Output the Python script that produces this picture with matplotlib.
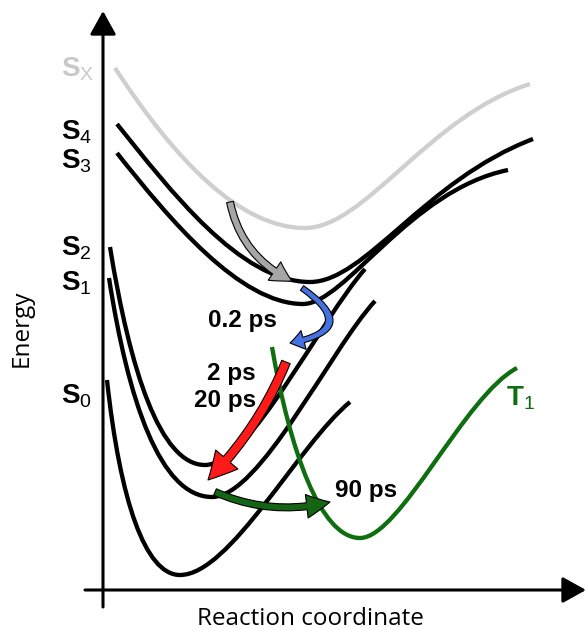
import matplotlib
matplotlib.use('Agg')
from matplotlib import pyplot as plt
from matplotlib.patches import FancyArrowPatch, PathPatch
from matplotlib.path import Path

plt.rcParams['font.family'] = ['Liberation Sans', 'DejaVu Sans']
plt.rcParams['mathtext.fontset'] = 'custom'
plt.rcParams['mathtext.rm'] = 'Liberation Sans'
plt.rcParams['mathtext.bf'] = 'Liberation Sans:bold'

# each curve = two cubic Bezier pieces (start, ctrl, ctrl, minimum, ctrl, ctrl, end)
# in pixel units, y pointing down
sxX = [115, 175, 240, 305, 365, 430, 530]
sxY = [68, 160, 228, 228, 228, 115, 84]

s4X = [117, 170, 240, 310, 365, 425, 533]
s4Y = [124, 190, 282, 282, 282, 180, 139]

s3X = [117, 170, 240, 303, 345, 410, 508]
s3Y = [153, 220, 304, 304, 304, 190, 170]

s2X = [110, 130, 160, 205, 250, 320, 365]
s2Y = [247, 370, 465, 465, 465, 320, 269]

s1X = [109, 128, 160, 212, 260, 330, 375]
s1Y = [278, 400, 497, 497, 497, 350, 301]

s0X = [107, 120, 145, 180, 230, 298, 350]
s0Y = [380, 500, 575, 575, 575, 445, 402]

t1X = [272, 290, 320, 360, 400, 465, 517]
t1Y = [347, 450, 538, 538, 538, 395, 368]

# state labels: text, x, baseline y, colour
stateLabels = [
    (r'$\mathbf{S}_{\mathrm{X}}$', 61, 76, '#c8c8c8'),
    (r'$\mathbf{S}_{4}$', 61, 139, 'black'),
    (r'$\mathbf{S}_{3}$', 61, 168, 'black'),
    (r'$\mathbf{S}_{2}$', 61, 255, 'black'),
    (r'$\mathbf{S}_{1}$', 61, 290, 'black'),
    (r'$\mathbf{S}_{0}$', 61, 403, 'black'),
]

# time constants: text, x, baseline y, alignment
timeLabels = [
    ('0.2 ps', 208, 327, 'left'),
    ('2 ps', 256, 380, 'right'),
    ('20 ps', 256, 407, 'right'),
    ('90 ps', 335, 497, 'left'),
]

green = '#0f6e0f'

fig = plt.figure(figsize=(5.86, 6.3), dpi=100)
ax = fig.add_axes([0, 0, 1, 1])
ax.set_xlim(0, 586)
ax.set_ylim(630, 0)
ax.axis('off')

# axes with arrow heads
ax.annotate('', xy=(103, 11), xytext=(103, 607),
            arrowprops=dict(arrowstyle='-|>,head_length=0.9,head_width=0.5', mutation_scale=16,
                            lw=2.2, color='black', shrinkA=0, shrinkB=0))
ax.annotate('', xy=(586, 590), xytext=(85, 590),
            arrowprops=dict(arrowstyle='-|>,head_length=0.9,head_width=0.5', mutation_scale=16,
                            lw=2.2, color='black', shrinkA=0, shrinkB=0))

codes = [Path.MOVETO] + [Path.CURVE4] * 6


def curve(xs, ys, col):
    p = Path(list(zip(xs, ys)), codes)
    ax.add_patch(PathPatch(p, fc='none', ec=col, lw=3.1, capstyle='butt'))


curve(sxX, sxY, '#cfcfcf')
curve(s4X, s4Y, 'black')
curve(s3X, s3Y, 'black')
curve(s2X, s2Y, 'black')
curve(s1X, s1Y, 'black')
curve(s0X, s0Y, 'black')
curve(t1X, t1Y, green)


def curvedArrow(a, b, rad, fc, tail, hw, hl):
    style = 'simple,tail_width=%.2f,head_width=%.2f,head_length=%.2f' % (tail, hw, hl)
    arr = FancyArrowPatch(a, b, arrowstyle=style, connectionstyle='arc3,rad=%.2f' % rad,
                          mutation_scale=10, fc=fc, ec='black', lw=0.8,
                          shrinkA=0, shrinkB=0, zorder=5)
    ax.add_patch(arr)


curvedArrow((230, 202), (292, 281), 0.25, '#a6a6a6', 0.5, 1.6, 1.45)
curvedArrow((302, 288), (290, 343), -1.2, '#4472e0', 0.4, 1.4, 1.0)
curvedArrow((286, 362), (208, 480), -0.1, '#ff1a1a', 0.65, 2.1, 2.0)
curvedArrow((215, 492), (330, 502), 0.17, '#146414', 0.5, 1.7, 1.7)

for txt, x, y, col in stateLabels:
    ax.text(x, y, txt, fontsize=20, color=col, ha='left', va='baseline')

ax.text(506, 405, r'$\mathbf{T}_{1}$', fontsize=20, color=green, ha='left', va='baseline')

for txt, x, y, ha in timeLabels:
    ax.text(x, y, txt, fontsize=17.5, fontweight='bold', ha=ha, va='baseline')

ax.text(22, 328, 'Energy', fontsize=17.5, family='Open Sans', rotation=90, ha='center', va='center')
ax.text(310, 625, 'Reaction coordinate', fontsize=17.5, family='Open Sans', ha='center', va='baseline')

plt.savefig('out.png', dpi=100)
